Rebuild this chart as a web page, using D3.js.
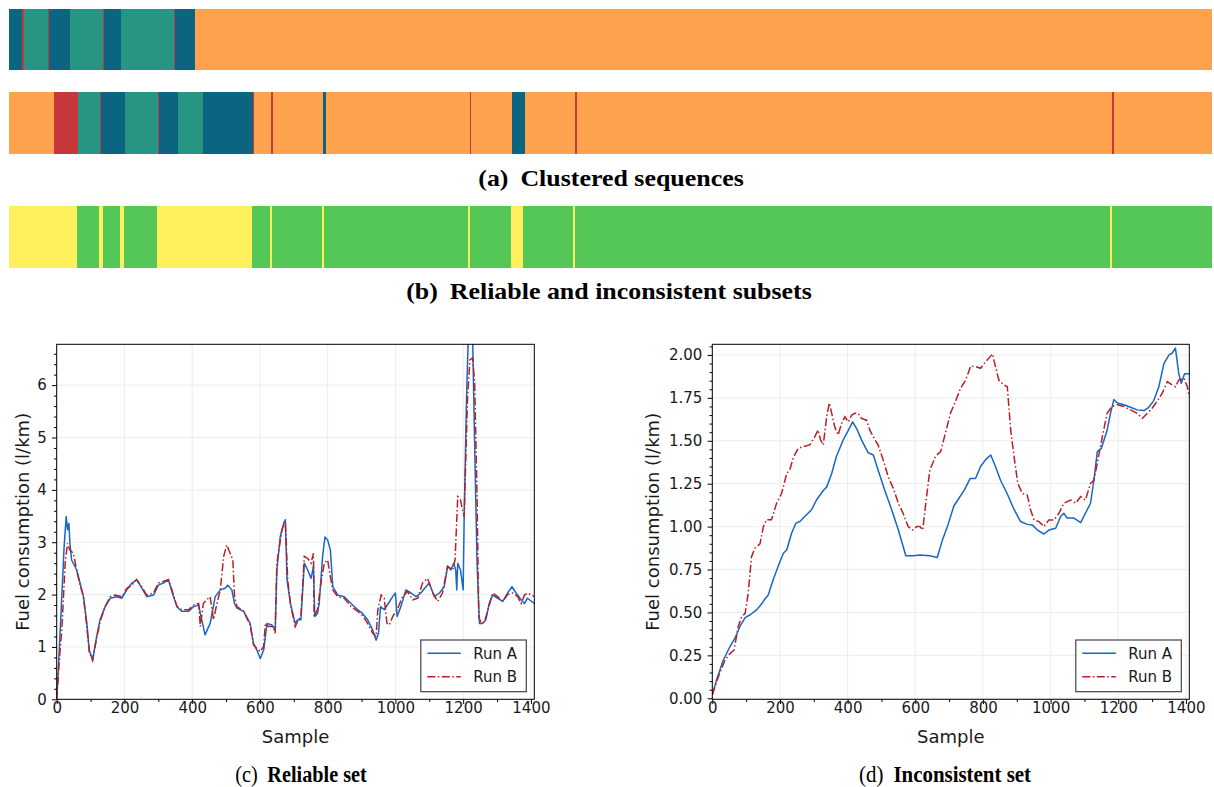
<!DOCTYPE html>
<html>
<head>
<meta charset="utf-8">
<script src="https://cdn.jsdelivr.net/npm/d3@7"></script>
<style>
body { margin: 0; background: #fff; }
svg { display: block; }
</style>
</head>
<body>
<svg id="fig" width="1214" height="787"></svg>
<script>
// cluster ids: 0 dark blue, 1 teal, 2 orange, 3 red
var clusterColors = ["#0b6581", "#269683", "#ffa24e", "#c63839"];
// subset ids: 0 reliable, 1 inconsistent
var subsetColors = ["#54c756", "#feef5c"];

// sequence strips, [start, end, id] along the sequence axis (0..1203)
var strip1 = [[0,13.5,0],[13.5,15,3],[15,39,1],[39,40.5,3],[40.5,61.5,0],[61.5,94.5,1],[94.5,95.5,3],
  [95.5,112.5,0],[112.5,165.5,1],[165.5,166.5,3],[166.5,186.5,0],[186.5,1203,2]];
var strip2 = [[0,45.7,2],[45.7,69.4,3],[69.4,91.5,1],[91.5,92.3,3],[92.3,116.5,0],[116.5,149.5,1],
  [149.5,150.5,3],[150.5,169.5,0],[169.5,194,1],[194,244.5,0],[244.5,245.5,3],[245.5,262.5,2],
  [262.5,264.5,3],[264.5,314.5,2],[314.5,317,0],[317,461,2],[461,462.5,3],[462.5,503.5,2],
  [503.5,516.5,0],[516.5,566,2],[566,568,3],[568,1103,2],[1103,1105,3],[1105,1203,2]];
var strip3 = [[0,68.5,1],[68.5,90.3,0],[90.3,94.3,1],[94.3,111.3,0],[111.3,115.3,1],[115.3,148.5,0],
  [148.5,243.8,1],[243.8,261.2,0],[261.2,263.5,1],[263.5,313.5,0],[313.5,315.7,1],[315.7,459.5,0],
  [459.5,461.5,1],[461.5,502,0],[502,514.5,1],[514.5,564,0],[564,566.5,1],[566.5,1101.5,0],
  [1101.5,1103.5,1],[1103.5,1203,0]];

var legendNames = ["Run A", "Run B"];
var xMajor = [0,200,400,600,800,1000,1200,1400];
var xMinor = [100,300,500,700,900,1100,1300];
var leftYMajor = [0,1,2,3,4,5,6];
var rightYMajor = [0,0.25,0.5,0.75,1,1.25,1.5,1.75,2];

// (c) reliable set, [sample, l/km]
var reliableA = [[0,0],[8,1.0],[15,1.96],[22,2.92],[28,3.49],[32,3.24],[36,3.36],[39,2.98],[44,2.66],
  [59,2.47],[69,2.22],[79,1.96],[89,1.45],[96,0.94],[106,0.75],[118,1.2],[128,1.52],[143,1.77],
  [158,1.93],[177,1.96],[192,1.93],[207,2.09],[222,2.22],[236,2.28],[246,2.18],[266,1.96],[286,1.99],
  [300,2.18],[315,2.22],[330,2.28],[345,1.96],[355,1.77],[369,1.68],[389,1.68],[404,1.77],[419,1.8],
  [428,1.52],[438,1.23],[453,1.45],[468,1.96],[483,2.09],[497,2.12],[505,2.18],[517,2.09],[525,1.83],
  [532,1.74],[552,1.68],[571,1.45],[581,1.07],[591,0.94],[601,0.78],[611,0.94],[621,1.45],[635,1.42],
  [645,1.32],[650,2.47],[660,3.11],[670,3.36],[675,3.43],[680,2.28],[690,1.83],[704,1.45],[712,1.52],
  [721,1.52],[731,2.6],[741,2.47],[751,2.31],[758,2.54],[762,1.58],[770,1.64],[775,1.83],[785,2.73],
  [792,3.1],[800,3.04],[808,2.85],[815,2.15],[830,1.99],[849,1.96],[869,1.83],[889,1.71],[903,1.64],
  [918,1.52],[933,1.32],[943,1.13],[950,1.26],[956,1.77],[967,1.71],[979,1.83],[992,1.96],[1000,2.03],
  [1005,1.58],[1016,1.77],[1031,2.09],[1046,2.03],[1061,1.96],[1075,2.03],[1090,2.15],[1100,2.22],
  [1115,1.96],[1130,2.03],[1144,2.15],[1154,2.54],[1164,2.47],[1172,2.6],[1178,2.47],[1181,2.09],
  [1184,2.6],[1192,2.47],[1200,2.09],[1203,3.49],[1210,5.78],[1215,6.9],[1228,6.9],[1233,5.15],
  [1241,2.6],[1248,1.45],[1258,1.45],[1267,1.52],[1277,1.83],[1287,1.99],[1302,1.93],[1317,1.87],
  [1331,2.03],[1344,2.15],[1356,2.03],[1371,1.9],[1381,1.83],[1390,1.93],[1410,1.83]];
var reliableB = [[0,0],[10,0.94],[15,1.32],[25,2.6],[32,2.98],[39,2.85],[49,2.79],[59,2.47],[69,2.18],
  [79,1.96],[89,1.39],[96,0.91],[106,0.74],[118,1.17],[128,1.48],[143,1.77],[158,1.96],[172,1.99],
  [192,1.96],[207,2.12],[222,2.18],[236,2.29],[251,2.15],[266,1.99],[286,2.03],[300,2.22],[315,2.25],
  [330,2.29],[345,1.99],[355,1.77],[369,1.71],[389,1.71],[404,1.8],[419,1.83],[424,1.39],[433,1.83],
  [443,1.9],[453,1.96],[463,1.52],[473,1.83],[483,2.09],[493,2.73],[502,2.95],[512,2.79],[520,2.66],
  [525,1.96],[532,1.77],[552,1.68],[571,1.42],[581,1.04],[591,0.97],[601,0.91],[611,1.01],[616,1.45],
  [625,1.39],[640,1.39],[645,1.26],[650,2.6],[665,3.24],[675,3.4],[682,2.28],[690,1.83],[704,1.39],
  [712,1.5],[721,1.58],[731,2.73],[741,2.69],[751,2.6],[758,2.79],[760,1.58],[770,1.71],[780,2.22],
  [790,2.6],[800,2.66],[808,2.34],[815,2.09],[830,1.96],[849,1.93],[869,1.77],[889,1.68],[903,1.6],
  [918,1.45],[933,1.26],[943,1.2],[948,1.71],[958,1.99],[967,1.93],[975,1.45],[982,1.42],[992,1.58],
  [1007,1.74],[1021,1.96],[1036,2.06],[1051,1.9],[1066,1.93],[1080,2.22],[1095,2.31],[1110,2.03],
  [1125,1.87],[1139,2.03],[1154,2.54],[1169,2.47],[1176,2.66],[1184,3.87],[1192,3.81],[1198,3.62],
  [1203,3.49],[1213,5.78],[1220,6.48],[1228,6.52],[1234,6.04],[1241,3.87],[1246,1.58],[1253,1.45],
  [1263,1.48],[1273,1.7],[1287,2.03],[1302,1.96],[1317,1.87],[1331,2.0],[1346,2.03],[1361,1.96],
  [1371,1.83],[1381,1.99],[1390,2.03],[1410,1.96]];

// (d) inconsistent set, [sample, l/km]
var inconsistentA = [[0,0.02],[13,0.11],[32,0.22],[52,0.3],[67,0.35],[82,0.42],[97,0.47],[111,0.485],
  [131,0.515],[146,0.55],[156,0.58],[165,0.6],[180,0.69],[195,0.77],[210,0.845],[220,0.864],[234,0.96],
  [247,1.02],[259,1.03],[274,1.06],[294,1.1],[308,1.155],[328,1.21],[338,1.23],[353,1.31],[367,1.41],
  [387,1.505],[402,1.56],[415,1.61],[427,1.57],[441,1.505],[461,1.43],[476,1.417],[490,1.33],[510,1.21],
  [530,1.1],[550,0.98],[572,0.83],[594,0.83],[614,0.835],[643,0.83],[665,0.82],[680,0.92],[695,1.0],
  [714,1.12],[729,1.165],[744,1.21],[762,1.28],[778,1.28],[793,1.35],[808,1.39],[823,1.417],[837,1.35],
  [852,1.27],[872,1.19],[892,1.1],[911,1.03],[931,1.013],[946,1.01],[961,0.98],[980,0.957],[995,0.98],
  [1015,0.99],[1030,1.06],[1039,1.078],[1049,1.05],[1069,1.05],[1089,1.023],[1103,1.078],[1118,1.136],
  [1128,1.27],[1138,1.437],[1150,1.456],[1167,1.56],[1177,1.66],[1187,1.74],[1197,1.72],[1217,1.71],
  [1236,1.695],[1256,1.68],[1276,1.676],[1290,1.695],[1305,1.734],[1320,1.815],[1335,1.95],[1350,2.0],
  [1359,2.01],[1369,2.04],[1379,1.89],[1386,1.835],[1396,1.89],[1410,1.89]];
var inconsistentB = [[0,0.02],[18,0.126],[37,0.22],[52,0.26],[64,0.28],[77,0.42],[87,0.476],[97,0.495],
  [106,0.61],[116,0.825],[126,0.874],[141,0.9],[151,1.0],[160,1.04],[175,1.04],[190,1.136],[205,1.194],
  [220,1.31],[229,1.33],[239,1.4],[254,1.456],[269,1.466],[288,1.476],[303,1.524],[313,1.563],[320,1.505],
  [328,1.476],[338,1.64],[346,1.72],[353,1.66],[362,1.58],[372,1.534],[382,1.6],[392,1.64],[402,1.61],
  [412,1.65],[422,1.66],[431,1.66],[441,1.63],[456,1.62],[466,1.56],[481,1.505],[490,1.476],[505,1.39],
  [520,1.29],[535,1.223],[550,1.136],[564,1.078],[579,1.0],[592,0.98],[604,1.0],[614,1.0],[622,0.98],
  [631,1.136],[643,1.33],[660,1.41],[675,1.437],[689,1.544],[704,1.66],[719,1.73],[734,1.806],[749,1.854],
  [764,1.936],[778,1.932],[793,1.922],[808,1.96],[828,2.006],[837,1.932],[847,1.854],[862,1.825],
  [872,1.815],[882,1.563],[892,1.408],[903,1.252],[916,1.194],[931,1.184],[941,1.097],[951,1.039],
  [966,1.029],[980,1.0],[995,1.039],[1010,1.039],[1025,1.078],[1039,1.136],[1059,1.155],[1074,1.136],
  [1089,1.175],[1103,1.155],[1118,1.252],[1128,1.27],[1138,1.37],[1153,1.524],[1167,1.66],[1182,1.7],
  [1197,1.71],[1217,1.7],[1236,1.68],[1256,1.66],[1271,1.63],[1286,1.66],[1300,1.69],[1315,1.73],
  [1330,1.777],[1345,1.845],[1359,1.825],[1369,1.815],[1379,1.854],[1394,1.864],[1404,1.815],[1410,1.757]];

var svg = d3.select("#fig");
var blue = "#1866c6";
var red = "#b81f24";
var sans = "DejaVu Sans";
var serif = "Liberation Serif";

// ---- strips ----
var sx = d3.scaleLinear().domain([0, 1203]).range([8.5, 1211.5]);

function drawStrip(data, colors, y0, h) {
  svg.append("g").selectAll("rect").data(data).join("rect")
    .attr("x", function(d) { return sx(d[0]); })
    .attr("width", function(d) { return sx(d[1]) - sx(d[0]); })
    .attr("y", y0)
    .attr("height", h)
    .attr("fill", function(d) { return colors[d[2]]; })
    .attr("shape-rendering", "crispEdges");
}
drawStrip(strip1, clusterColors, 9, 61);
drawStrip(strip2, clusterColors, 92, 62);
drawStrip(strip3, subsetColors, 206, 62);

// captions: stretch is a horizontal scale so widths match the scanned figure
function caption(cx, cy, tag, title, tagBold, size, stretch) {
  var t = svg.append("text")
    .attr("transform", "translate(" + cx + "," + cy + ") scale(" + stretch + ",1)")
    .attr("text-anchor", "middle")
    .attr("font-family", serif)
    .attr("font-size", size)
    .attr("fill", "#000");
  t.append("tspan").attr("font-weight", tagBold ? "bold" : "normal").text(tag);
  t.append("tspan").attr("dx", 11).attr("font-weight", "bold").text(title);
}
caption(611, 186, "(a)", "Clustered sequences", true, 24, 1.08);
caption(609, 299, "(b)", "Reliable and inconsistent subsets", true, 24, 1.08);
caption(301, 782, "(c)", "Reliable set", false, 23, 0.88);
caption(945, 782, "(d)", "Inconsistent set", false, 23, 0.91);

// ---- line panels ----
function drawPanel(cfg) {
  var top = 344.3, bottom = 699.3;
  var g = svg.append("g");
  var x = d3.scaleLinear().domain([0, 1410]).range([cfg.left, cfg.right]);
  var y = d3.scaleLinear().domain(cfg.ydom).range([bottom, top]);

  // grid
  g.append("g").selectAll("line").data(xMajor).join("line")
    .attr("x1", function(d) { return x(d); }).attr("x2", function(d) { return x(d); })
    .attr("y1", top).attr("y2", bottom)
    .attr("stroke", "#ebebeb").attr("stroke-width", 0.9);
  g.append("g").selectAll("line").data(cfg.yMajor).join("line")
    .attr("x1", cfg.left).attr("x2", cfg.right)
    .attr("y1", function(d) { return y(d); }).attr("y2", function(d) { return y(d); })
    .attr("stroke", "#ebebeb").attr("stroke-width", 0.9);

  var clipId = "clip" + cfg.id;
  svg.append("clipPath").attr("id", clipId).append("rect")
    .attr("x", cfg.left).attr("y", top)
    .attr("width", cfg.right - cfg.left).attr("height", bottom - top);

  var line = d3.line().x(function(d) { return x(d[0]); }).y(function(d) { return y(d[1]); });
  var lines = g.append("g").attr("clip-path", "url(#" + clipId + ")");
  lines.append("path").attr("d", line(cfg.a))
    .attr("fill", "none").attr("stroke", blue).attr("stroke-width", 1.5)
    .attr("stroke-linejoin", "round");
  lines.append("path").attr("d", line(cfg.b))
    .attr("fill", "none").attr("stroke", red).attr("stroke-width", 1.5)
    .attr("stroke-dasharray", "8,2.5,1.5,2.5");

  // axes
  var xAxis = g.append("g").attr("transform", "translate(0," + bottom + ")")
    .call(d3.axisBottom(x).tickValues(xMajor).tickSize(4.7).tickPadding(0).tickFormat(d3.format("d")));
  xAxis.selectAll("text").attr("y", 14.2).attr("dy", 0);
  g.append("g").attr("transform", "translate(0," + bottom + ")")
    .call(d3.axisBottom(x).tickValues(xMinor).tickSize(2.7).tickFormat(""));
  g.append("g").attr("transform", "translate(" + cfg.left + ",0)")
    .call(d3.axisLeft(y).tickValues(cfg.yMajor).tickSize(4.7).tickPadding(5.3).tickFormat(cfg.yFormat));
  g.append("g").attr("transform", "translate(" + cfg.left + ",0)")
    .call(d3.axisLeft(y).tickValues(cfg.yMinor).tickSize(2.7).tickFormat(""));
  g.selectAll(".domain").remove();
  g.selectAll(".tick line").attr("stroke", "#000").attr("stroke-width", 1);
  g.selectAll(".tick text").attr("font-family", sans).attr("font-size", 15).attr("fill", "#1a1a1a");

  g.append("rect").attr("x", cfg.left).attr("y", top)
    .attr("width", cfg.right - cfg.left).attr("height", bottom - top)
    .attr("fill", "none").attr("stroke", "#000").attr("stroke-width", 1);

  g.append("text").attr("x", (cfg.left + cfg.right) / 2).attr("y", 743)
    .attr("text-anchor", "middle").attr("font-family", sans).attr("font-size", 18)
    .attr("fill", "#1a1a1a").text("Sample");
  g.append("text")
    .attr("transform", "translate(" + (cfg.left - cfg.ylabelOff) + "," + ((top + bottom) / 2) + ") rotate(-90)")
    .attr("text-anchor", "middle").attr("font-family", sans).attr("font-size", 18)
    .attr("fill", "#1a1a1a").text("Fuel consumption (l/km)");

  // legend
  var lx = cfg.right - 113.5, ly = 640;
  var lg = g.append("g").attr("transform", "translate(" + lx + "," + ly + ")");
  lg.append("rect").attr("width", 105.5).attr("height", 51.7)
    .attr("fill", "#fff").attr("stroke", "#444").attr("stroke-width", 1.2);
  var styles = [{c: blue, dash: null}, {c: red, dash: "8,2.5,1.5,2.5"}];
  legendNames.forEach(function(name, i) {
    var yy = 13.3 + i * 23.4;
    lg.append("line").attr("x1", 6.5).attr("x2", 40).attr("y1", yy).attr("y2", yy)
      .attr("stroke", styles[i].c).attr("stroke-width", 1.5)
      .attr("stroke-dasharray", styles[i].dash);
    lg.append("text").attr("x", 52.5).attr("y", yy + 5.5)
      .attr("font-family", sans).attr("font-size", 15).attr("fill", "#1a1a1a").text(name);
  });
}

function range(a, b, step) {
  return d3.range(Math.round((b - a) / step) + 1).map(function(i) { return +(a + i * step).toFixed(4); });
}

drawPanel({
  id: "c", left: 56.7, right: 534.3, ydom: [0, 6.78],
  yMajor: leftYMajor,
  yMinor: range(0, 6.6, 0.2).filter(function(v) { return Math.abs(v - Math.round(v)) > 1e-6; }),
  yFormat: d3.format("d"), ylabelOff: 28.2,
  a: reliableA, b: reliableB
});
drawPanel({
  id: "d", left: 712.3, right: 1189.3, ydom: [-0.006, 2.062],
  yMajor: rightYMajor,
  yMinor: range(0.05, 2.05, 0.05).filter(function(v) { return Math.abs(v * 4 - Math.round(v * 4)) > 1e-6; }),
  yFormat: d3.format(".2f"), ylabelOff: 53.8,
  a: inconsistentA, b: inconsistentB
});
</script>
</body>
</html>
